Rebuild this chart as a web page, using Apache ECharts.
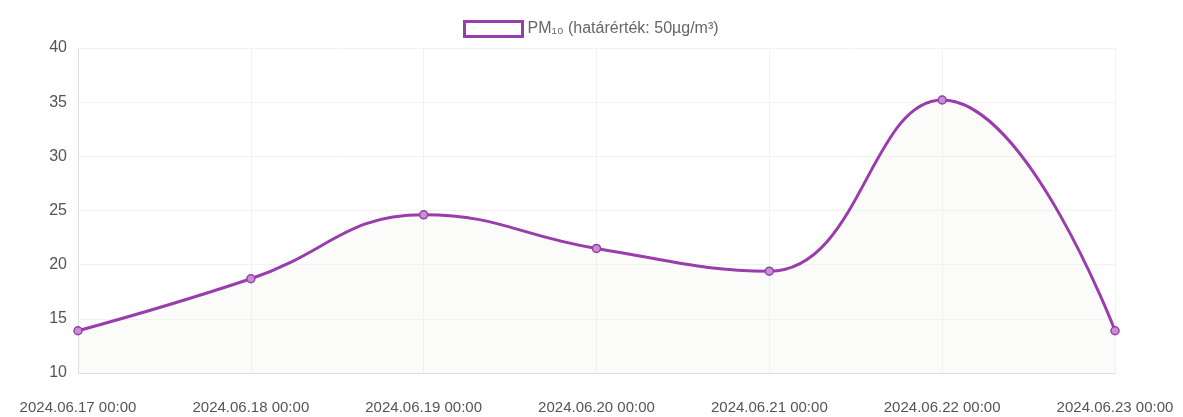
<!DOCTYPE html>
<html>
<head>
<meta charset="utf-8">
<script src="https://cdn.jsdelivr.net/npm/echarts@6/dist/echarts.min.js"></script>
<style>
html,body{margin:0;padding:0;background:#fff;}
#chart{width:1183px;height:417px;}
</style>
</head>
<body>
<div id="chart"></div>
<script>
const categories = ["2024.06.17 00:00","2024.06.18 00:00","2024.06.19 00:00","2024.06.20 00:00","2024.06.21 00:00","2024.06.22 00:00","2024.06.23 00:00"];
const pmValues = [13.9, 18.7, 24.6, 21.5, 19.4, 35.2, 13.9];
const seriesName = "PM\u2081\u2080 (határérték: 50µg/m³)";
const yTicks = {min: 10, max: 40, interval: 5};

const purple = '#9a3dac';
const chart = echarts.init(document.getElementById('chart'));
chart.setOption({
  animation: false,
  backgroundColor: '#fff',
  textStyle: {fontFamily: 'Liberation Sans, Arial, sans-serif'},
  legend: {
    top: 15,
    left: 458,
    itemWidth: 58,
    itemHeight: 15,
    itemGap: 8,
    icon: 'rect',
    textStyle: {color: '#666', fontSize: 16},
    data: [{name: seriesName, itemStyle: {color: '#fff', borderColor: purple, borderWidth: 3}}]
  },
  grid: {left: 78, right: 68, top: 48, bottom: 44},
  xAxis: {
    type: 'category',
    data: categories,
    boundaryGap: false,
    axisLine: {lineStyle: {color: '#ddd'}},
    axisTick: {show: false},
    axisLabel: {color: '#555', fontSize: 15, margin: 27, interval: 0},
    splitLine: {show: true, lineStyle: {color: '#f2f2f2'}}
  },
  yAxis: {
    type: 'value',
    min: yTicks.min, max: yTicks.max, interval: yTicks.interval,
    axisLine: {show: true, lineStyle: {color: '#ddd'}},
    axisTick: {show: false},
    axisLabel: {color: '#555', fontSize: 16, margin: 11},
    splitLine: {lineStyle: {color: '#f2f2f2'}}
  },
  series: [{
    name: seriesName,
    type: 'line',
    data: pmValues,
    smooth: 0.45,
    symbol: 'circle',
    symbolSize: 8,
    lineStyle: {color: purple, width: 3},
    itemStyle: {color: '#c58fd0', borderColor: purple, borderWidth: 1.5},
    areaStyle: {color: 'rgba(235,235,225,0.25)'}
  }]
});
</script>
</body>
</html>
